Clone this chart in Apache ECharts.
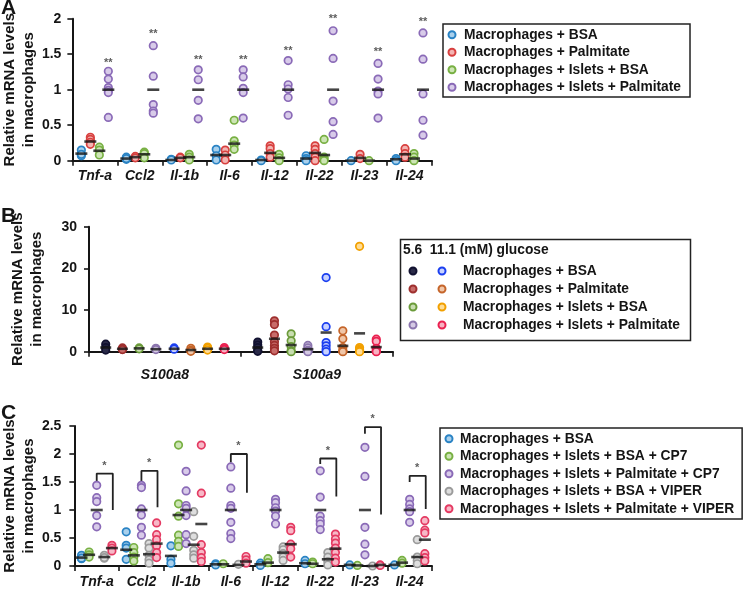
<!DOCTYPE html>
<html>
<head>
<meta charset="utf-8">
<script src="https://cdn.jsdelivr.net/npm/echarts@6/dist/echarts.min.js"></script>
<style>
html,body{margin:0;padding:0;background:#fff;}
#chart{width:745px;height:589px;}
</style>
</head>
<body>
<div id="chart"></div>
<script>
// ---------- categories / tick labels ----------
const genesAC = ['Tnf-a','Ccl2','Il-1b','Il-6','Il-12','Il-22','Il-23','Il-24'];
const genesB = ['S100a8','S100a9'];
const yTitle = 'Relative mRNA levels\nin macrophages';

// ---------- Panel A values (per gene) ----------
const aBSA = [[0.15,0.07,0.09],[0.05,0.02,0.03],[0.02,0.01],[0.16,0.07,0.01],[0.01,0.0],[0.07,0.03,0.0],[0.0],[0.03,0.0]];
const aPalm = [[0.33,0.30,0.26,0.23],[0.06,0.04],[0.05,0.04],[0.15,0.08,0.01],[0.21,0.17,0.10,0.05],[0.21,0.16,0.10,0.05,0.0],[0.09,0.03],[0.17,0.10,0.05]];
const aIsletBSA = [[0.19,0.15,0.08],[0.12,0.10,0.04],[0.09,0.05,0.01],[0.57,0.28,0.22,0.16],[0.09,0.04,0.0],[0.30,0.05,0.02,0.0],[0.0],[0.10,0.05,0.0]];
const aIsletPalm = [[1.26,1.15,1.03,0.99,0.96,0.61],[1.62,1.19,0.79,0.70,0.67],[1.28,1.14,0.85,0.59],[1.28,1.18,1.02,0.96,0.60],[1.41,1.07,1.01,0.89,0.64],[1.83,1.44,0.84,0.55,0.37],[1.37,1.15,0.98,0.94,0.60],[1.80,1.43,0.94,0.57,0.36]];
const aMeanBSA = [0.10,0.03,0.01,0.08,0.01,0.03,0.0,0.02];
const aMeanPalm = [0.27,0.05,0.04,0.08,0.11,0.11,0.04,0.09];
const aMeanIsletBSA = [0.14,0.09,0.05,0.24,0.04,0.08,0.0,0.03];
const aMeanIsletPalm = [1,1,1,1,1,1,1,1];
const aStarY = [1.38,1.78,1.42,1.42,1.55,2.0,1.53,1.95];

// ---------- Panel B values (per gene: S100a8, S100a9) ----------
const b56BSA = [[1.8,1.0,0.4],[2.3,1.6,1.0,0.3,0.1]];
const b56Palm = [[0.9,0.6,0.5],[7.4,6.5,4.0,2.4,1.5,0.8,0.2]];
const b56IsletBSA = [[0.9,0.7],[4.3,2.6,1.2,0.2,0.0]];
const b56IsletPalm = [[0.8,0.5],[1.5,0.9,0.3,0.1,0.0]];
const b111BSA = [[0.9,0.6],[17.8,6.0,2.2,1.4,0.6,0.0]];
const b111Palm = [[0.8,0.3,0.1],[5.0,3.1,1.0,0.2,0.1,0.0]];
const b111IsletBSA = [[1.1,0.8,0.4],[25.3,1.0,0.6,0.3,0.1,0.0]];
const b111IsletPalm = [[1.0,0.7,0.5],[3.0,2.5,0.8,0.4,0.1,0.0]];
const bMean56BSA = [1.0,1.0];
const bMean56Palm = [0.7,3.1];
const bMean56IsletBSA = [0.8,1.6];
const bMean56IsletPalm = [0.6,0.6];
const bMean111BSA = [0.7,4.6];
const bMean111Palm = [0.4,1.4];
const bMean111IsletBSA = [0.7,4.4];
const bMean111IsletPalm = [0.7,1.1];

// ---------- Panel C values (per gene) ----------
const cBSA = [[0.19,0.13,0.14],[0.61,0.37,0.32,0.12],[0.36,0.12,0.05],[0.04,0.02],[0.05,0.01],[0.10,0.04],[0.02],[0.02]];
const cIsletBSACP7 = [[0.25,0.20,0.16],[0.33,0.24,0.16,0.09],[2.16,1.11,0.89,0.55,0.44,0.35],[0.04],[0.13,0.06],[0.07,0.04],[0.01],[0.10,0.05]];
const cIsletPalmCP7 = [[1.44,1.22,1.15,0.90,0.70],[1.44,1.40,1.02,0.91,0.69,0.55],[1.69,1.34,1.08,1.03,0.90,0.56,0.40],[1.77,1.39,1.08,1.03,0.78,0.58,0.49],[1.19,1.13,1.04,0.98,0.89,0.75],[1.70,1.23,0.89,0.81,0.75,0.65],[2.12,1.60,0.69,0.39,0.20],[1.19,1.10,1.02,0.97,0.78]];
const cIsletBSAVIPER = [[0.19,0.14,0.15],[0.40,0.32,0.19,0.11,0.05],[0.97,0.53,0.28,0.20,0.14],[0.03],[0.34,0.29,0.22,0.16,0.10],[0.24,0.16,0.08,0.02],[0.0],[0.47,0.16,0.10,0.04]];
const cIsletPalmVIPER = [[0.37,0.32,0.27],[0.77,0.56,0.47,0.36,0.24,0.15],[2.16,1.30,0.38,0.24,0.15,0.08],[0.17,0.11,0.05],[0.69,0.63,0.39,0.31,0.16],[0.57,0.48,0.41,0.32,0.24,0.14,0.07],[0.02,0.01],[0.81,0.64,0.59,0.22,0.15,0.09]];
const cMeanBSA = [0.15,0.29,0.18,0.03,0.03,0.05,0.02,0.02];
const cMeanBSACP7 = [0.20,0.19,0.91,0.03,0.06,0.04,0.01,0.06];
const cMeanPalmCP7 = [1,1,1,1,1,1,1,1];
const cMeanBSAVIPER = [0.16,0.21,0.38,0.02,0.24,0.12,0.0,0.16];
const cMeanPalmVIPER = [0.32,0.40,0.75,0.08,0.39,0.31,0.02,0.47];
// significance brackets (gene index, left leg bottom, top, right leg bottom, star)
const brGene = [0,1,3,5,6,7];
const brLeft = [1.51,1.50,1.85,1.82,2.36,1.50];
const brTop = [1.65,1.70,2.00,1.92,2.48,1.61];
const brRight = [1.00,1.05,1.31,1.24,0.92,1.02];
const brStar = [1.79,1.84,2.14,2.06,2.62,1.75];

// ---------- helpers ----------
const FONT = 'Liberation Sans, Arial, sans-serif';
const INK = '#151515';

function dots(name, groups, offset, xi, yi, stroke, fill) {
  const data = [];
  groups.forEach((vals, gi) => vals.forEach(v => data.push([gi + offset, v])));
  return {
    type: 'scatter', name, xAxisIndex: xi, yAxisIndex: yi, data,
    symbol: 'circle', symbolSize: 7.5, z: 3, clip: false,
    itemStyle: { color: fill, borderColor: stroke, borderWidth: 1.7, opacity: 1 },
    emphasis: { disabled: true }
  };
}
function means(tag, arr, offset, xi, yi, w) {
  return {
    type: 'scatter', name: tag, xAxisIndex: xi, yAxisIndex: yi,
    data: arr.map((v, gi) => [gi + offset, v]),
    symbol: 'rect', symbolSize: [w, 2.6], z: 5, clip: false,
    itemStyle: { color: INK }, emphasis: { disabled: true }
  };
}
function stars(tag, xs, ys, xi, yi, txt) {
  return {
    type: 'scatter', name: tag, xAxisIndex: xi, yAxisIndex: yi,
    data: xs.map((x, i) => [x, ys[i]]),
    symbolSize: 1, z: 6, clip: false,
    itemStyle: { color: 'rgba(0,0,0,0)' },
    label: { show: true, position: 'inside', formatter: txt, color: '#333', fontFamily: FONT, fontWeight: 'bold', fontSize: 11 },
    emphasis: { disabled: true }
  };
}

function catAxis(grid, cats, margin) {
  return {
    type: 'category', gridIndex: grid, data: cats, boundaryGap: true,
    axisLine: { onZero: false, lineStyle: { color: INK, width: 2 } },
    axisTick: { show: true, interval: 0, length: 5, lineStyle: { color: INK, width: 1.6 } },
    axisLabel: { interval: 0, margin, color: INK, fontFamily: FONT, fontWeight: 'bold', fontStyle: 'italic', fontSize: 14 },
    splitLine: { show: false }
  };
}
function posAxis(grid, n) {
  return { type: 'value', gridIndex: grid, min: -0.5, max: n - 0.5, show: false,
    axisLine: { show: false, onZero: false }, splitLine: { show: false } };
}
function valAxis(grid, max, interval, margin, nameGap) {
  return {
    type: 'value', gridIndex: grid, min: 0, max, interval,
    name: yTitle, nameLocation: 'middle', nameGap, nameRotate: 90,
    nameTextStyle: { color: INK, fontFamily: FONT, fontWeight: 'bold', fontSize: 15, lineHeight: 18.5 },
    axisLine: { show: true, onZero: false, lineStyle: { color: INK, width: 2 } },
    axisTick: { show: true, length: 5, lineStyle: { color: INK, width: 1.6 } },
    axisLabel: { margin, color: INK, fontFamily: FONT, fontWeight: 'bold', fontSize: 14 },
    splitLine: { show: false }
  };
}

// ---------- colours ----------
const col = {
  blue: ['#2a83c4', '#a9d0ec'], red: ['#d8403f', '#f3b4b2'], green: ['#78b043', '#cde5b5'],
  purple: ['#8a6ab7', '#d8cbe9'], gray: ['#9b9b9b', '#dedede'], pink: ['#e43a62', '#f7b8c7'],
  bBlack: ['#111130', '#2a2a48'], bDRed: ['#9e2f2e', '#c86c6a'], bGreen: ['#6b9b3a', '#c8ddb0'],
  bPurple: ['#8b75ae', '#d5cae4'], bBlue: ['#1b3ff0', '#c7d1ff'], bBrown: ['#c5652a', '#f0c6a8'],
  bOrange: ['#f2a000', '#ffdc94'], bRed: ['#ea2150', '#f8b2c2']
};

const offA = [-0.3, -0.1, 0.1, 0.3];
const offB = [-0.39, -0.28, -0.17, -0.06, 0.06, 0.17, 0.28, 0.39];
const offC = [-0.34, -0.17, 0, 0.17, 0.34];

const namesA = ['Macrophages + BSA', 'Macrophages + Palmitate', 'Macrophages + Islets + BSA', 'Macrophages + Islets + Palmitate'];
const namesC = ['Macrophages + BSA', 'Macrophages + Islets + BSA + CP7', 'Macrophages + Islets + Palmitate + CP7', 'Macrophages + Islets + BSA + VIPER', 'Macrophages + Islets + Palmitate + VIPER'];
const namesB = namesA;
const b56 = namesB.map(n => '5.6 mM: ' + n);
const b111 = namesB.map(n => '11.1 mM: ' + n);

const series = [];
// Panel A
[[aBSA, aMeanBSA, col.blue], [aPalm, aMeanPalm, col.red], [aIsletBSA, aMeanIsletBSA, col.green], [aIsletPalm, aMeanIsletPalm, col.purple]]
  .forEach((g, i) => {
    series.push(dots(namesA[i], g[0], offA[i], 1, 0, g[2][0], g[2][1]));
    series.push(means('meanA' + i, g[1], offA[i], 1, 0, 12));
  });
series.push(stars('starsA', aStarY.map((v, i) => i + offA[3]), aStarY, 1, 0, '**'));

// Panel B
const bGroups = [
  [b56BSA, bMean56BSA, col.bBlack, b56[0]], [b56Palm, bMean56Palm, col.bDRed, b56[1]],
  [b56IsletBSA, bMean56IsletBSA, col.bGreen, b56[2]], [b56IsletPalm, bMean56IsletPalm, col.bPurple, b56[3]],
  [b111BSA, bMean111BSA, col.bBlue, b111[0]], [b111Palm, bMean111Palm, col.bBrown, b111[1]],
  [b111IsletBSA, bMean111IsletBSA, col.bOrange, b111[2]], [b111IsletPalm, bMean111IsletPalm, col.bRed, b111[3]]
];
bGroups.forEach((g, i) => {
  series.push(dots(g[3], g[0], offB[i], 3, 1, g[2][0], g[2][1]));
  series.push(means('meanB' + i, g[1], offB[i], 3, 1, 11));
});

// Panel C
[[cBSA, cMeanBSA, col.blue], [cIsletBSACP7, cMeanBSACP7, col.green], [cIsletPalmCP7, cMeanPalmCP7, col.purple],
 [cIsletBSAVIPER, cMeanBSAVIPER, col.gray], [cIsletPalmVIPER, cMeanPalmVIPER, col.pink]]
  .forEach((g, i) => {
    series.push(dots(namesC[i], g[0], offC[i], 5, 2, g[2][0], g[2][1]));
    series.push(means('meanC' + i, g[1], offC[i], 5, 2, 12));
  });
brGene.forEach((gi, k) => {
  const xl = gi + offC[2], xr = gi + offC[4] + 0.02;
  series.push({
    type: 'line', name: 'bracket' + k, xAxisIndex: 5, yAxisIndex: 2, clip: false,
    data: [[xl, brLeft[k]], [xl, brTop[k]], [xr, brTop[k]], [xr, brRight[k]]],
    showSymbol: false, symbol: 'none', z: 2,
    lineStyle: { color: '#222', width: 1.8 }, emphasis: { disabled: true }
  });
});
series.push(stars('starsC', brGene.map(gi => gi + (offC[2] + offC[4]) / 2), brStar, 5, 2, '*'));

const legendText = { color: INK, fontFamily: FONT, fontWeight: 'bold', fontSize: 13.8, lineHeight: 17.5 };

const option = {
  animation: false,
  backgroundColor: '#fff',
  grid: [
    { left: 68, top: 18.7, width: 364, height: 142 },
    { left: 89, top: 226.7, width: 304, height: 125 },
    { left: 68, top: 426, width: 364, height: 141.7 }
  ],
  xAxis: [
    catAxis(0, genesAC, 8), posAxis(0, genesAC.length),
    catAxis(1, genesB, 16), posAxis(1, genesB.length),
    catAxis(2, genesAC, 9), posAxis(2, genesAC.length)
  ],
  yAxis: [
    valAxis(0, 2, 0.5, 11, 25),
    valAxis(1, 30, 10, 12, 43),
    valAxis(2, 2.5, 0.5, 13, 27)
  ],
  legend: [
    {
      left: 443, top: 24, orient: 'vertical', data: namesA,
      icon: 'circle', itemWidth: 7, itemHeight: 7, itemGap: 0,
      padding: [2, 9, 1, 4.5], borderColor: '#222', borderWidth: 1.5, borderRadius: 0,
      textStyle: Object.assign({}, legendText, { padding: [0, 0, 0, 3.5] }), selectedMode: false
    },
    {
      left: 408.5, top: 262, orient: 'vertical', data: b56,
      icon: 'circle', itemWidth: 7, itemHeight: 7, itemGap: 0,
      padding: 0, formatter: () => ' ',
      textStyle: Object.assign({}, legendText, { lineHeight: 18 }), selectedMode: false
    },
    {
      left: 437.5, top: 262, orient: 'vertical', data: b111,
      icon: 'circle', itemWidth: 7, itemHeight: 7, itemGap: 0,
      padding: 0, formatter: n => n.split(': ')[1],
      textStyle: Object.assign({}, legendText, { lineHeight: 18, padding: [0, 0, 0, 12.5] }), selectedMode: false
    },
    {
      left: 440, top: 428, orient: 'vertical', data: namesC,
      icon: 'circle', itemWidth: 7, itemHeight: 7, itemGap: 0,
      padding: [2, 8, 1.5, 4.5], borderColor: '#222', borderWidth: 1.5, borderRadius: 0,
      textStyle: Object.assign({}, legendText, { padding: [0, 0, 0, 2.5] }), selectedMode: false
    }
  ],
  graphic: [
    { type: 'text', left: 1, top: -2, style: { text: 'A', font: 'bold 21px ' + FONT, fill: INK } },
    { type: 'text', left: 1, top: 206, style: { text: 'B', font: 'bold 21px ' + FONT, fill: INK } },
    { type: 'text', left: 1, top: 403, style: { text: 'C', font: 'bold 21px ' + FONT, fill: INK } },
    { type: 'rect', left: 398, top: 237, shape: { width: 290, height: 101 }, style: { fill: 'none', stroke: '#222', lineWidth: 1.5 } },
    { type: 'text', left: 403, top: 243, style: { text: '5.6  11.1 (mM) glucose', font: 'bold 13.8px ' + FONT, fill: INK } }
  ],
  series
};

const chart = echarts.init(document.getElementById('chart'), null, { renderer: 'canvas' });
chart.setOption(option);
</script>
</body>
</html>
